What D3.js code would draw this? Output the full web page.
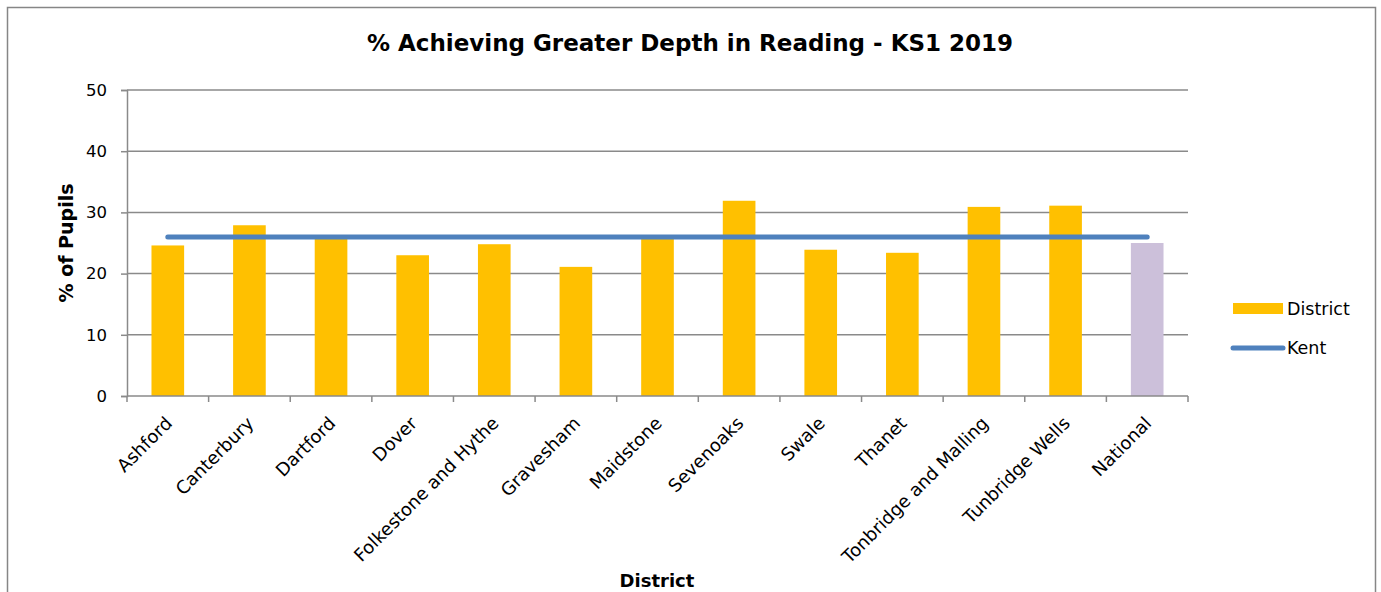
<!DOCTYPE html>
<html>
<head>
<meta charset="utf-8">
<script src="https://cdn.jsdelivr.net/npm/d3@7"></script>
<style>
  body { margin: 0; background: #fff; }
  svg text { font-family: "DejaVu Sans", Verdana, sans-serif; fill: #000; }
</style>
</head>
<body>
<svg id="chart" width="1381" height="592"></svg>
<script>
// Chart data
const districts = ['Ashford', 'Canterbury', 'Dartford', 'Dover', 'Folkestone and Hythe', 'Gravesham',
  'Maidstone', 'Sevenoaks', 'Swale', 'Thanet', 'Tonbridge and Malling', 'Tunbridge Wells', 'National'];
const districtValues = [24.6, 27.9, 25.9, 23.0, 24.8, 21.1, 25.8, 31.9, 23.9, 23.4, 30.9, 31.1, 25.0];
const kentValue = 26.0;
const yTicks = [0, 10, 20, 30, 40, 50];

const svg = d3.select('#chart');
const margin = { left: 127, right: 1188, top: 90, bottom: 396 };

// Outer chart border
svg.append('rect')
  .attr('x', 7.5).attr('y', 7.5)
  .attr('width', 1368).attr('height', 600)
  .attr('fill', 'none')
  .attr('stroke', '#868686')
  .attr('stroke-width', 1.5);

const x = d3.scaleBand()
  .domain(districts)
  .range([margin.left, margin.right])
  .paddingInner(0.6)
  .paddingOuter(0.3);

const xOuter = d3.scaleBand()
  .domain(districts)
  .range([margin.left, margin.right]);

const y = d3.scaleLinear()
  .domain([0, 50])
  .range([margin.bottom, margin.top]);

// Gridlines
svg.append('g')
  .selectAll('line')
  .data(yTicks.filter((d) => d > 0))
  .enter()
  .append('line')
  .attr('x1', margin.left).attr('x2', margin.right)
  .attr('y1', (d) => y(d)).attr('y2', (d) => y(d))
  .attr('stroke', '#8a8a8a')
  .attr('stroke-width', 1.5);

// Y axis
const yAxis = svg.append('g')
  .attr('transform', `translate(${margin.left},0)`)
  .call(d3.axisLeft(y).tickValues(yTicks).tickSize(6).tickPadding(14));
yAxis.select('.domain').attr('stroke', '#8a8a8a').attr('stroke-width', 1.5);
yAxis.selectAll('.tick line').attr('stroke', '#8a8a8a').attr('stroke-width', 1.5);
yAxis.selectAll('.tick text')
  .style('font-size', '16.5px')
  .style('font-family', '"DejaVu Sans", Verdana, sans-serif');

// Bars
svg.append('g')
  .selectAll('rect')
  .data(districts)
  .enter()
  .append('rect')
  .attr('x', (d) => x(d))
  .attr('width', x.bandwidth())
  .attr('y', (d, i) => y(districtValues[i]))
  .attr('height', (d, i) => y(0) - y(districtValues[i]))
  .attr('fill', (d) => (d === 'National' ? '#CCC0DA' : '#FFC000'));

// X axis with boundary ticks
const xAxisG = svg.append('g').attr('transform', `translate(0,${margin.bottom})`);
xAxisG.append('line')
  .attr('x1', margin.left).attr('x2', margin.right)
  .attr('stroke', '#8a8a8a').attr('stroke-width', 1.5);
xAxisG.selectAll('line.tick')
  .data(districts.concat(['__end']))
  .enter()
  .append('line')
  .attr('class', 'tick')
  .attr('x1', (d) => (d === '__end' ? margin.right : xOuter(d)))
  .attr('x2', (d) => (d === '__end' ? margin.right : xOuter(d)))
  .attr('y1', 0).attr('y2', 6)
  .attr('stroke', '#8a8a8a').attr('stroke-width', 1.5);

xAxisG.selectAll('text')
  .data(districts)
  .enter()
  .append('text')
  .attr('transform', (d) => `translate(${xOuter(d) + xOuter.bandwidth() / 2 + 1},${24}) rotate(-45)`)
  .attr('text-anchor', 'end')
  .attr('dy', '0.35em')
  .style('font-size', '18px')
  .text((d) => d);

// Kent line
const kentLine = d3.line()
  .x((d) => xOuter(d) + xOuter.bandwidth() / 2)
  .y(() => y(kentValue));
svg.append('path')
  .datum(districts)
  .attr('d', kentLine)
  .attr('fill', 'none')
  .attr('stroke', '#4F81BD')
  .attr('stroke-width', 5)
  .attr('stroke-linecap', 'round');

// Titles
svg.append('text')
  .attr('x', 690).attr('y', 51)
  .attr('text-anchor', 'middle')
  .style('font-size', '23px')
  .style('font-weight', 'bold')
  .text('% Achieving Greater Depth in Reading - KS1 2019');

svg.append('text')
  .attr('transform', 'translate(73,243) rotate(-90)')
  .attr('text-anchor', 'middle')
  .style('font-size', '19px')
  .style('font-weight', 'bold')
  .text('% of Pupils');

svg.append('text')
  .attr('x', 657).attr('y', 587)
  .attr('text-anchor', 'middle')
  .style('font-size', '18px')
  .style('font-weight', 'bold')
  .text('District');

// Legend
const legend = svg.append('g');
legend.append('rect')
  .attr('x', 1233).attr('y', 303)
  .attr('width', 50).attr('height', 11)
  .attr('fill', '#FFC000');
legend.append('text')
  .attr('x', 1287).attr('y', 309)
  .attr('dy', '0.35em')
  .style('font-size', '17.5px')
  .text('District');
legend.append('line')
  .attr('x1', 1233).attr('x2', 1283)
  .attr('y1', 348).attr('y2', 348)
  .attr('stroke', '#4F81BD')
  .attr('stroke-width', 5)
  .attr('stroke-linecap', 'round');
legend.append('text')
  .attr('x', 1287).attr('y', 348)
  .attr('dy', '0.35em')
  .style('font-size', '17.5px')
  .text('Kent');
</script>
</body>
</html>
